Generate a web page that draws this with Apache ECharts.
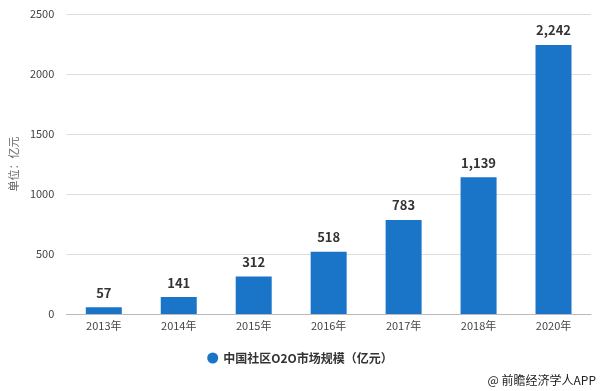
<!DOCTYPE html>
<html><head><meta charset="utf-8">
<script src="https://cdn.jsdelivr.net/npm/echarts@6/dist/echarts.min.js"></script>
<style>html,body{margin:0;padding:0;background:#fff}#c{width:600px;height:391px}</style>
</head><body><div id="c"></div>
<script>
const categories = ['2013年','2014年','2015年','2016年','2017年','2018年','2020年'];
const values = [57, 141, 312, 518, 783, 1139, 2242];
const seriesName = '中国社区O2O市场规模（亿元）';
const yName = '单位：亿元';
const credit = '@ 前瞻经济学人APP';

const chart = echarts.init(document.getElementById('c'));
chart.setOption({
  animation: false,
  textStyle: { fontFamily: '"Microsoft YaHei","Noto Sans CJK SC",sans-serif' },
  grid: { left: 61, right: 9, top: 14, bottom: 77 },
  legend: {
    bottom: 22, left: 'center',
    icon: 'circle', itemWidth: 11, itemHeight: 11, itemGap: 6,
    textStyle: { fontSize: 12, fontWeight: 'bold', color: '#333' },
    data: [seriesName]
  },
  graphic: [{
    type: 'text', right: 4, bottom: 5,
    style: { text: credit, fontSize: 12, fill: '#222', fontFamily: '"Microsoft YaHei","Noto Sans CJK SC",sans-serif' }
  }],
  xAxis: {
    type: 'category', data: categories,
    axisLine: { lineStyle: { color: '#bbb' } },
    axisTick: { alignWithLabel: true, length: 4, lineStyle: { color: '#bbb' } },
    axisLabel: { color: '#444', fontSize: 11, margin: 6 }
  },
  yAxis: {
    type: 'value', min: 0, max: 2500, interval: 500,
    name: yName, nameLocation: 'middle', nameGap: 46, nameRotate: 90,
    nameTextStyle: { color: '#666', fontSize: 11 },
    axisLine: { show: false }, axisTick: { show: false },
    axisLabel: { color: '#444', fontSize: 11, margin: 12, formatter: v => String(v) },
    splitLine: { lineStyle: { color: '#ddd' } }
  },
  series: [{
    name: seriesName, type: 'bar', data: values, barWidth: 36,
    itemStyle: { color: '#1a74c8' },
    label: {
      show: true, position: 'top', distance: 8,
      color: '#333', fontSize: 13, fontWeight: 'bold',
      formatter: p => p.value.toLocaleString('en-US')
    }
  }]
});
</script></body></html>
